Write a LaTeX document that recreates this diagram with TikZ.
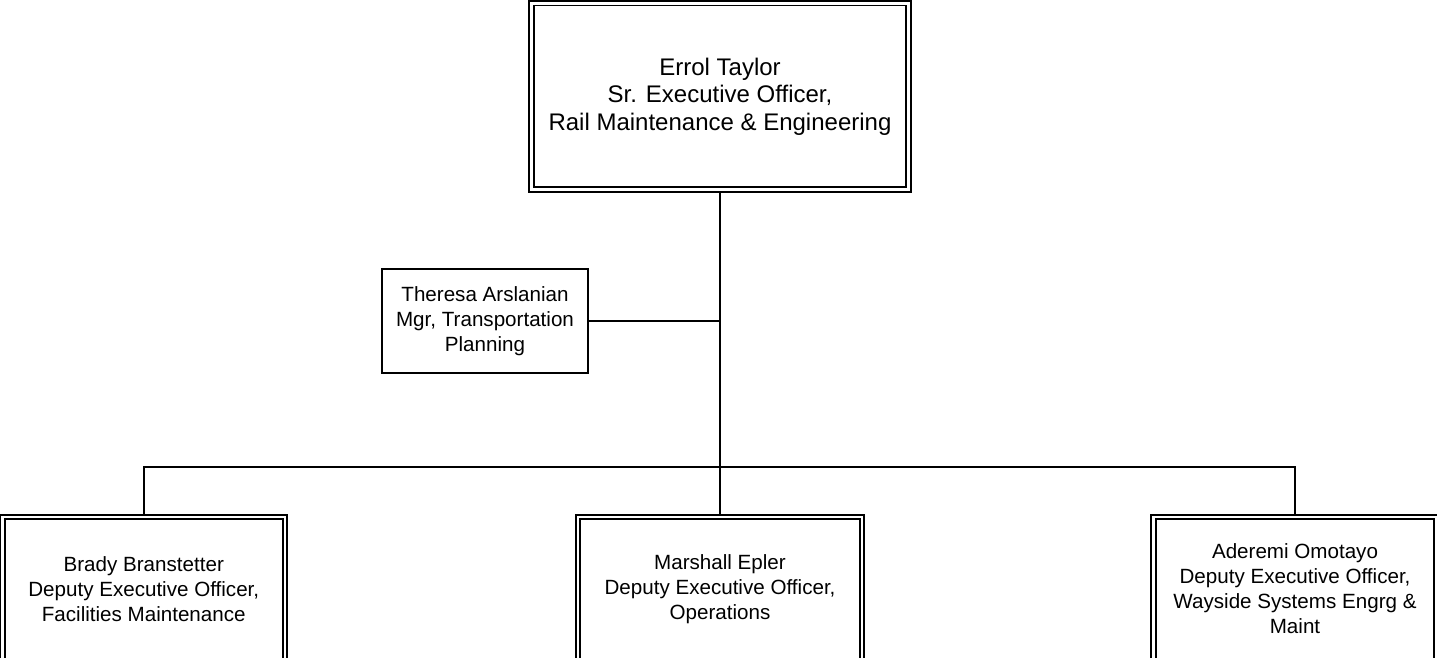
\documentclass[tikz,border=0pt]{standalone}
\usepackage{fontspec}
\setmainfont{Liberation Sans}
\usetikzlibrary{backgrounds}
\begin{document}
\begin{tikzpicture}[x=1pt,y=-1pt,
  dbox/.style={draw, double, double distance=2.8pt, line width=1.8pt, inner sep=0pt, align=center},
  sbox/.style={draw, line width=1.8pt, inner sep=0pt, align=center},
  bigtext/.style={font=\fontsize{24}{27.5}\selectfont},
  smalltext/.style={font=\fontsize{20.6}{25}\selectfont},
  conn/.style={line width=1.8pt}]
\useasboundingbox (0,0) rectangle (1437,658);
\clip (0,0) rectangle (1437,658);
\node[dbox, bigtext, minimum width=377.25pt, minimum height=186pt] (top) at (720,96.3)
  {Errol Taylor\\Sr. Executive Officer,\\Rail Maintenance \& Engineering};
\node[sbox, smalltext, minimum width=206pt, minimum height=104pt] (theresa) at (485,321)
  {Theresa Arslanian\\Mgr, Transportation\\Planning};
\node[dbox, smalltext, minimum width=282.5pt, minimum height=144pt] (brady) at (143.75,589)
  {Brady Branstetter\\Deputy Executive Officer,\\Facilities Maintenance};
\node[dbox, smalltext, minimum width=284pt, minimum height=144pt] (marshall) at (720,589)
  {Marshall Epler\\Deputy Executive Officer,\\Operations};
\node[dbox, smalltext, minimum width=283pt, minimum height=144pt] (aderemi) at (1295,589)
  {Aderemi Omotayo\\Deputy Executive Officer,\\Wayside Systems Engrg \&\\Maint};
\coordinate (bus) at (720,467);
\begin{scope}[on background layer]
  \draw[conn] (top.south) -- (marshall.north);
  \draw[conn] (theresa.east) -- (theresa.east -| top.south);
  \draw[conn] (brady.north) |- (bus) -| (aderemi.north);
\end{scope}
\end{tikzpicture}
\end{document}
